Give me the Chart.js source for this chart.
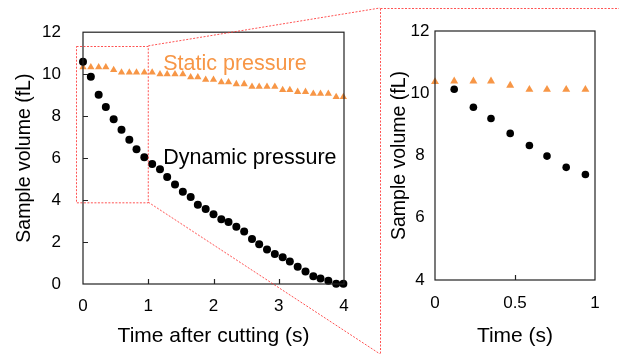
<!DOCTYPE html>
<html>
<head>
<meta charset="utf-8">
<script src="https://cdn.jsdelivr.net/npm/chart.js@4/dist/chart.umd.min.js"></script>
<style>
  body { margin: 0; background: #fff; }
  #wrap { position: relative; width: 619px; height: 354px; }
  #main { position: absolute; left: 0; top: 0; }
  #zoom { position: absolute; left: 380px; top: 0; }
</style>
</head>
<body>
<div id="wrap">
  <canvas id="main" width="380" height="354"></canvas>
  <canvas id="zoom" width="239" height="354"></canvas>
</div>
<script>
// datos del panel principal
const timeMain = [0, 0.12, 0.24, 0.35, 0.47, 0.59, 0.71, 0.82, 0.94, 1.06, 1.18, 1.29, 1.41, 1.53, 1.65, 1.76, 1.88,
    2.00, 2.12, 2.23, 2.35, 2.47, 2.59, 2.70, 2.82, 2.94, 3.06, 3.17, 3.29, 3.41, 3.53, 3.64, 3.76, 3.88, 3.99];
const dynamicMain = [10.59, 9.88, 9.02, 8.44, 7.85, 7.35, 6.87, 6.42, 6.04, 5.72, 5.47, 5.10, 4.74, 4.40, 4.15, 3.78, 3.58,
    3.33, 3.09, 2.96, 2.73, 2.50, 2.14, 1.90, 1.64, 1.43, 1.28, 1.07, 0.82, 0.60, 0.37, 0.26, 0.15, 0.01, 0.01];
const staticMain = [10.33, 10.33, 10.33, 10.33, 10.2, 10.08, 10.08, 10.08, 10.08, 10.08, 10.0, 10.0, 10.0, 10.0, 9.86, 9.86, 9.74,
    9.74, 9.62, 9.62, 9.53, 9.53, 9.4, 9.4, 9.4, 9.4, 9.25, 9.25, 9.16, 9.16, 9.07, 9.07, 9.07, 8.92, 8.92];
const xTicksMain = [0, 1, 2, 3, 4];
const yTicksMain = [0, 2, 4, 6, 8, 10, 12];

// datos del panel ampliado (el primer punto dinámico queda tapado por el triángulo)
const timeZoom = [0, 0.12, 0.24, 0.35, 0.47, 0.59, 0.70, 0.82, 0.94];
const dynamicZoom = [null, 10.13, 9.55, 9.19, 8.71, 8.32, 7.98, 7.62, 7.39];
const staticZoom = [10.37, 10.39, 10.39, 10.39, 10.25, 10.12, 10.12, 10.12, 10.12];
const xTicksZoom = [0, 0.5, 1];
const yTicksZoom = [4, 6, 8, 10, 12];

const naranja = '#f79646';
const rojo = 'rgba(255,40,40,0.8)';
const fuente = "'Liberation Sans', Arial, sans-serif";

function puntos(xs, ys) {
    return xs.map((x, i) => ({ x: x, y: ys[i] }));
}

function fijarTicks(valores) {
    return function(scale) {
        scale.ticks = valores.map(v => ({ value: v }));
    };
}

function marcoYTicks(chart, xIn, yIn) {
    const ctx = chart.ctx;
    const a = chart.chartArea;
    const sx = chart.scales.x, sy = chart.scales.y;
    ctx.save();
    ctx.strokeStyle = '#222';
    ctx.lineWidth = 1.2;
    ctx.strokeRect(a.left, a.top, a.right - a.left, a.bottom - a.top);
    ctx.beginPath();
    xIn.forEach(v => {
        const px = Math.round(sx.getPixelForValue(v)) + 0.5;
        ctx.moveTo(px, a.bottom);
        ctx.lineTo(px, a.bottom - 5);
    });
    yIn.forEach(v => {
        const py = Math.round(sy.getPixelForValue(v)) + 0.5;
        ctx.moveTo(a.left, py);
        ctx.lineTo(a.left + 5, py);
    });
    ctx.stroke();
    ctx.restore();
}

const pluginPrincipal = {
    id: 'principal',
    afterDraw(chart) {
        marcoYTicks(chart, [1, 2, 3], [2, 4, 6, 8, 10]);
        const ctx = chart.ctx;
        const sx = chart.scales.x, sy = chart.scales.y;
        const x0 = sx.getPixelForValue(-0.1), x1 = sx.getPixelForValue(1.0);
        const y0 = sy.getPixelForValue(11.35), y1 = sy.getPixelForValue(3.9);
        ctx.save();
        ctx.strokeStyle = rojo;
        ctx.lineWidth = 1;
        ctx.setLineDash([2, 1.5]);
        ctx.strokeRect(Math.round(x0) + 0.5, Math.round(y0) + 0.5, x1 - x0, y1 - y0);
        ctx.beginPath();
        ctx.moveTo(x1, y0);
        ctx.lineTo(chart.width, 8);
        ctx.moveTo(x1, y1);
        ctx.lineTo(chart.width, chart.height);
        ctx.stroke();
        ctx.setLineDash([]);
        ctx.font = '21.5px ' + fuente;
        ctx.textBaseline = 'middle';
        ctx.textAlign = 'left';
        ctx.fillStyle = naranja;
        ctx.fillText('Static pressure', sx.getPixelForValue(1.23), sy.getPixelForValue(10.5));
        ctx.fillStyle = '#000';
        ctx.fillText('Dynamic pressure', sx.getPixelForValue(1.23), sy.getPixelForValue(6.0));
        ctx.restore();
    }
};

const pluginZoom = {
    id: 'ampliado',
    afterDraw(chart) {
        marcoYTicks(chart, [0.5], []);
        const ctx = chart.ctx;
        ctx.save();
        ctx.strokeStyle = rojo;
        ctx.lineWidth = 1;
        ctx.setLineDash([2, 1.5]);
        ctx.beginPath();
        ctx.moveTo(0.5, 8.5);
        ctx.lineTo(chart.width, 8.5);
        ctx.moveTo(0.5, 8.5);
        ctx.lineTo(0.5, chart.height);
        ctx.stroke();
        ctx.restore();
    }
};

function opciones(cfg) {
    return {
        responsive: false,
        animation: false,
        layout: { padding: cfg.padding },
        plugins: { legend: { display: false }, tooltip: { enabled: false } },
        scales: {
            x: {
                type: 'linear',
                min: cfg.xMin, max: cfg.xMax,
                afterBuildTicks: fijarTicks(cfg.xTicks),
                afterFit(scale) { scale.height = cfg.xAltura; },
                grid: { display: false, drawTicks: false },
                border: { display: false },
                ticks: {
                    color: '#000', padding: cfg.xPad,
                    callback: v => String(v),
                    font: { family: fuente, size: 17 }
                },
                title: {
                    display: true, text: cfg.xTitulo, color: '#000',
                    padding: { top: 0, bottom: 5 },
                    font: { family: fuente, size: 21 }
                }
            },
            y: {
                type: 'linear',
                min: cfg.yMin, max: cfg.yMax,
                afterBuildTicks: fijarTicks(cfg.yTicks),
                afterFit(scale) { scale.width = cfg.yAncho; },
                grid: { display: false, drawTicks: false },
                border: { display: false },
                ticks: {
                    color: '#000', padding: cfg.yPad, crossAlign: cfg.yAlinear,
                    callback: v => String(v),
                    font: { family: fuente, size: 17 }
                },
                title: {
                    display: true, text: 'Sample volume (fL)', color: '#000',
                    padding: { top: cfg.yTituloPad, bottom: 0 },
                    font: { family: fuente, size: 19.5 }
                }
            }
        }
    };
}

new Chart(document.getElementById('main').getContext('2d'), {
    type: 'scatter',
    data: {
        datasets: [{
            label: 'Dynamic pressure',
            data: puntos(timeMain, dynamicMain),
            pointStyle: 'circle',
            pointRadius: 4,
            backgroundColor: '#000',
            borderWidth: 0,
            order: 0,
            clip: false
        }, {
            label: 'Static pressure',
            data: puntos(timeMain, staticMain),
            pointStyle: 'triangle',
            pointRadius: 4.2,
            backgroundColor: naranja,
            borderWidth: 0,
            order: 1,
            clip: false
        }]
    },
    options: opciones({
        padding: { left: 0, right: 36, top: 28, bottom: 0 },
        xMin: 0, xMax: 4, xTicks: xTicksMain, xAltura: 70, xPad: 12,
        xTitulo: 'Time after cutting (s)',
        yMin: 0, yMax: 12, yTicks: yTicksMain, yAncho: 83, yPad: 22, yAlinear: 'near',
        yTituloPad: 13
    }),
    plugins: [pluginPrincipal]
});

new Chart(document.getElementById('zoom').getContext('2d'), {
    type: 'scatter',
    data: {
        datasets: [{
            label: 'Static pressure',
            data: puntos(timeZoom, staticZoom),
            pointStyle: 'triangle',
            pointRadius: 4.6,
            backgroundColor: naranja,
            borderWidth: 0,
            order: 0,
            clip: false
        }, {
            label: 'Dynamic pressure',
            data: puntos(timeZoom, dynamicZoom),
            pointStyle: 'circle',
            pointRadius: 3.8,
            backgroundColor: '#000',
            borderWidth: 0,
            order: 1,
            clip: false
        }]
    },
    options: opciones({
        padding: { left: 0, right: 24, top: 31, bottom: 0 },
        xMin: 0, xMax: 1, xTicks: xTicksZoom, xAltura: 74, xPad: 13,
        xTitulo: 'Time (s)',
        yMin: 4, yMax: 12, yTicks: yTicksZoom, yAncho: 55, yPad: 5.5, yAlinear: 'center',
        yTituloPad: 8
    }),
    plugins: [pluginZoom]
});
</script>
</body>
</html>
